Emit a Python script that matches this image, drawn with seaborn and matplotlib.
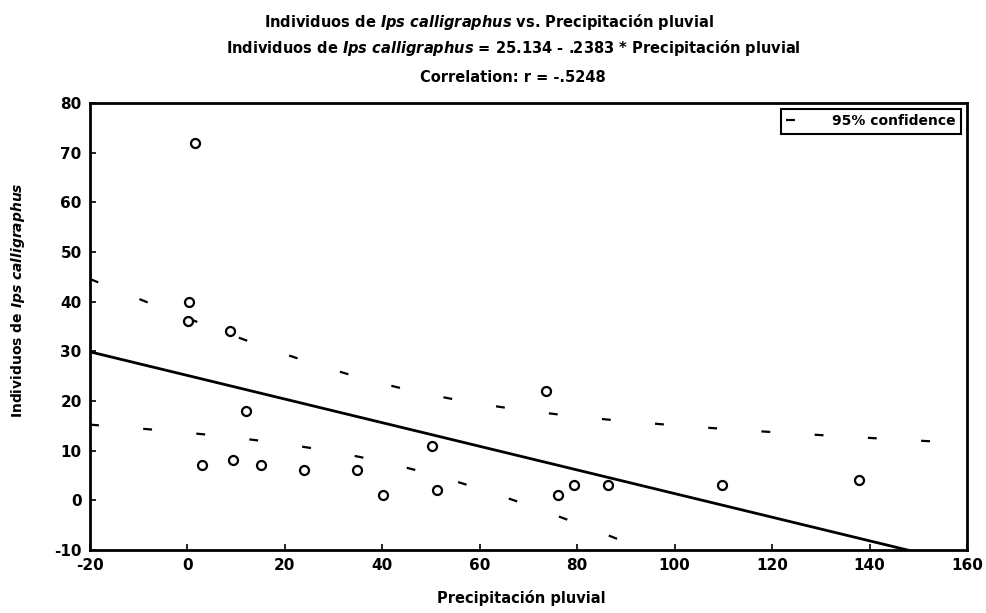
import numpy as np
import pandas as pd
import matplotlib
matplotlib.use("Agg")
import matplotlib.pyplot as plt
import seaborn as sns

# Datos
precipitacion = [1.5, 0.3, 0.1, 8.7, 12.0, 2.9, 9.4, 15.1, 23.9, 34.8,
                 40.1, 50.2, 51.2, 73.5, 76.1, 79.3, 86.3, 109.7, 137.8]
individuos = [72, 40, 36, 34, 18, 7, 8, 7, 6, 6,
              1, 11, 2, 22, 1, 3, 3, 3, 4]

x_ticks = [-20, 0, 20, 40, 60, 80, 100, 120, 140, 160]
y_ticks = [-10, 0, 10, 20, 30, 40, 50, 60, 70, 80]

titulo_1 = r"Individuos de $\it{Ips\ calligraphus}$ vs. Precipitación pluvial"
titulo_2 = r"Individuos de $\it{Ips\ calligraphus}$ = 25.134 - .2383 * Precipitación pluvial"
titulo_3 = "Correlation: r = -.5248"

df = pd.DataFrame({"precipitacion": precipitacion, "individuos": individuos})

sns.set_style("ticks")
plt.rcParams["font.family"] = ["DejaVu Sans"]
plt.rcParams["font.weight"] = "bold"
plt.rcParams["mathtext.fontset"] = "custom"
plt.rcParams["mathtext.rm"] = "DejaVu Sans:bold"
plt.rcParams["mathtext.it"] = "DejaVu Sans:italic:bold"
plt.rcParams["axes.unicode_minus"] = False
for k in ["text.color", "axes.labelcolor", "xtick.color", "ytick.color"]:
    plt.rcParams[k] = "black"

fig = plt.figure(figsize=(9.87, 6.13), dpi=100)
ax = fig.add_axes([0.0912, 0.103, 0.8885, 0.729])
ax.set_xlim(-20, 160)
ax.set_ylim(-10, 80)

# recta de regresion
sns.regplot(data=df, x="precipitacion", y="individuos", ax=ax, scatter=False,
            ci=None, truncate=False, color="black", line_kws=dict(lw=2))

# bandas de confianza al 95 %
x = np.array(precipitacion)
y = np.array(individuos, dtype=float)
n = len(x)
pendiente, intercepto = np.polyfit(x, y, 1)
resid = y - (intercepto + pendiente * x)
s = np.sqrt(np.sum(resid ** 2) / (n - 2))
t_crit = 2.110  # t de Student, gl = 17
x_grid = np.linspace(-20, 160, 300)
y_hat = intercepto + pendiente * x_grid
half = t_crit * s * np.sqrt(1 / n + (x_grid - x.mean()) ** 2 / np.sum((x - x.mean()) ** 2))
ax.plot(x_grid, y_hat + half, color="black", lw=1.6, dashes=(4, 20), label="95% confidence")
ax.plot(x_grid, y_hat - half, color="black", lw=1.6, dashes=(4, 20))

sns.scatterplot(data=df, x="precipitacion", y="individuos", ax=ax, s=42,
                facecolor="white", edgecolor="black", linewidth=1.6, zorder=3)

ax.set_xticks(x_ticks)
ax.set_yticks(y_ticks)
ax.tick_params(direction="in", length=4, width=1.2, labelsize=11, pad=6)
for sp in ax.spines.values():
    sp.set_linewidth(2)
    sp.set_color("black")
ax.set_xlabel("")
ax.set_ylabel("")

fig.text(0.495, 1 - 22 / 613, titulo_1, ha="center", va="center", fontsize=10.5)
fig.text(0.52, 1 - 48 / 613, titulo_2, ha="center", va="center", fontsize=10.5)
fig.text(0.52, 1 - 77 / 613, titulo_3, ha="center", va="center", fontsize=10.5)
fig.text(0.528, 1 - 598 / 613, "Precipitación pluvial", ha="center", va="center", fontsize=10.5)
fig.text(18 / 987, 1 - 300 / 613, r"Individuos de $\it{Ips\ calligraphus}$",
         ha="center", va="center", rotation=90, fontsize=10)

leg = ax.legend(loc="upper right", fancybox=False, framealpha=1, edgecolor="black",
                fontsize=10, handlelength=2.5, borderaxespad=0.4)
leg.get_frame().set_linewidth(1.5)

plt.savefig("out.png", dpi=100)
